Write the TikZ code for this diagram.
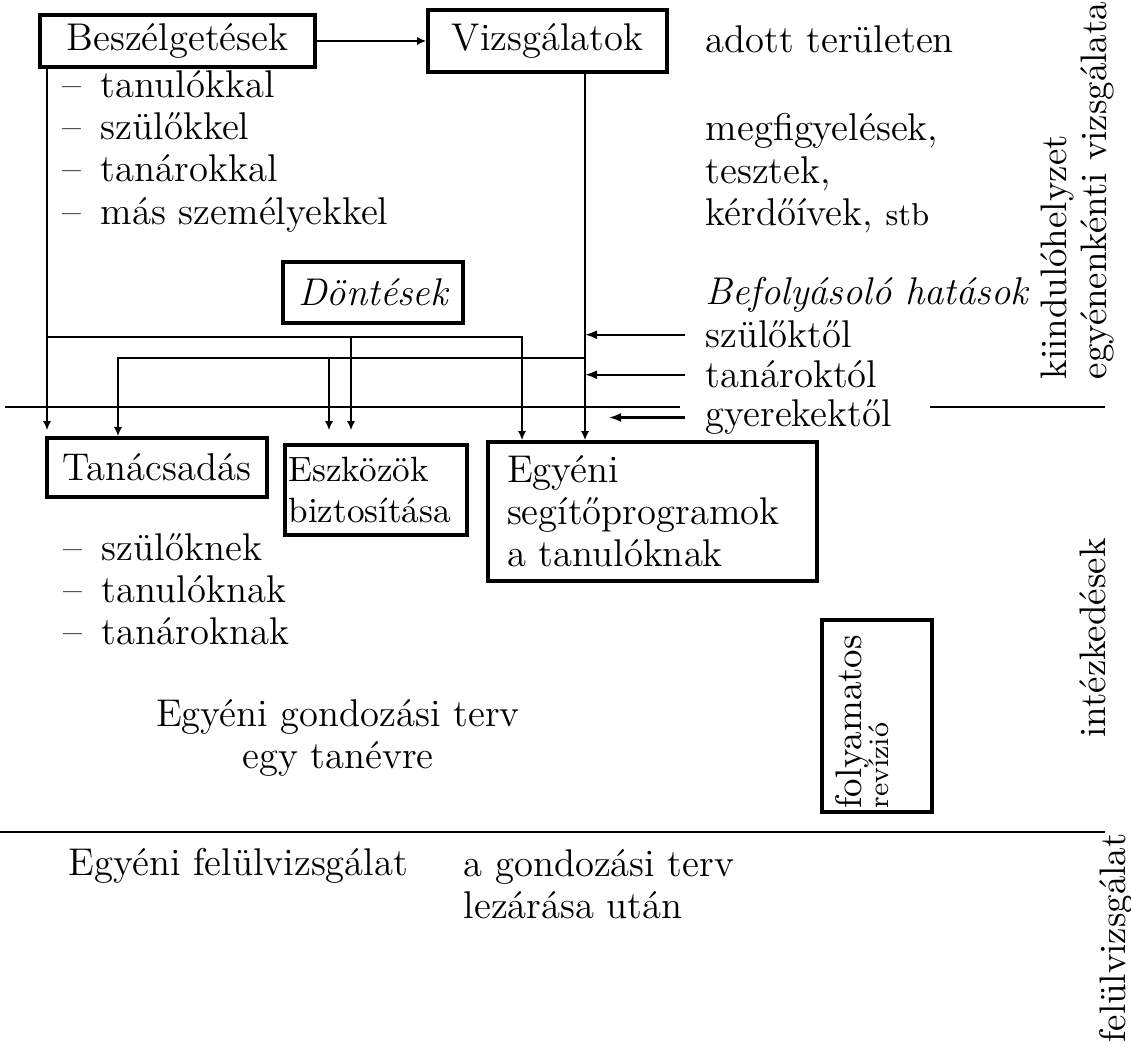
\documentclass[tikz,border=0pt]{standalone}
\usepackage{tikz}
\usetikzlibrary{calc, positioning, arrows.meta}
\newcommand{\dgfont}{\fontsize{11}{12}\selectfont}
\newcommand{\dgside}{\fontsize{10.5}{11.5}\selectfont}

\begin{document}
\begin{tikzpicture}[
  font=\dgfont,
  >={Latex[length=0.9mm,width=0.8mm]},
  box/.style={draw, line width=1pt, inner sep=2pt, align=center, font=\dgfont},
  lbl/.style={inner sep=0pt, align=left, font=\dgfont},
  flow/.style={->, line width=0.45pt},
  infl/.style={-{Latex[length=1.2mm,width=0.9mm]}, line width=0.6pt},
  sep/.style={line width=0.6pt},
  side/.style={rotate=90, inner sep=0pt, align=left, font=\dgside}
]
\useasboundingbox (0,0) rectangle (11.31,-10.49);

% upper band
\node[box, minimum width=2.75cm, minimum height=0.52cm] (besz) at (1.775,-0.41) {Beszélgetések};
\node[box, minimum width=2.39cm, minimum height=0.62cm] (vizsg) at (5.475,-0.41) {Vizsgálatok};
\node[lbl, anchor=base west] (adott) at (7.05,-0.53) {adott területen};
\node[lbl, anchor=north west] (kikkel) at (0.62,-0.70)
  {–\enspace tanulókkal\\–\enspace szülőkkel\\–\enspace tanárokkal\\–\enspace más személyekkel};
\node[lbl, anchor=north west] (modszer) at (7.05,-1.13)
  {megfigyelések,\\tesztek,\\kérdőívek, {\small stb}};

\node[box, font=\dgfont\itshape, minimum width=1.80cm, minimum height=0.61cm] (dont) at (3.73,-2.925) {Döntések};

\node[lbl, anchor=base west, font=\dgfont\itshape] (hatas) at (7.05,-3.05) {Befolyásoló hatások};
\node[lbl, anchor=base west] (szulok) at (7.05,-3.48) {szülőktől};
\node[lbl, anchor=base west] (tanarok) at (7.05,-3.88) {tanároktól};
\node[lbl, anchor=base west] (gyerekek) at (7.05,-4.27) {gyerekektől};

% measures
\node[box, minimum width=2.20cm, minimum height=0.59cm] (tanacs) at (1.57,-4.675) {Tanácsadás};
\node[box, align=left, text width=1.75cm, inner sep=1pt, minimum height=0.90cm,
      font=\fontsize{10}{11.4}\selectfont] (eszk) at (3.76,-4.90) {Eszközök\\biztosítása};
\node[box, align=left, text width=2.91cm, inner xsep=0.19cm, inner ysep=2pt,
      minimum height=1.39cm] (egyeni) at (6.525,-5.115) {Egyéni\\segítőprogramok\\a tanulóknak};
\node[lbl, anchor=north west] (kinek) at (0.63,-5.33)
  {–\enspace szülőknek\\–\enspace tanulóknak\\–\enspace tanároknak};
\node[lbl, align=center] (terv) at (3.38,-7.38) {Egyéni gondozási terv\\egy tanévre};
\node[box, rotate=90, align=left, text width=1.85cm, inner sep=1pt, minimum height=1.10cm,
      font=\dgside] (reviz) at (8.77,-7.16)
  {folyamatos\\[-4pt]{\fontsize{8}{9}\selectfont revízió}\rule[-3mm]{0pt}{0pt}};

% review
\node[lbl, anchor=base west] (felul) at (0.68,-8.76) {Egyéni felülvizsgálat};
\node[lbl, anchor=north west] (lezar) at (4.63,-8.49) {a gondozási terv\\lezárása után};

% side titles
\node[side, anchor=south west] (kiind) at (11.15,-3.80) {kiindulóhelyzet\\egyénenkénti vizsgálata};
\node[side] (intez) at (10.93,-6.38) {intézkedések};
\node[side] (felulv) at (11.16,-9.38) {felülvizsgálat};

% band separators
\draw[sep] (0.05,-4.07) -- (6.80,-4.07);
\draw[sep] (9.30,-4.07) -- (11.05,-4.07);
\draw[sep] (0,-8.32) -- (11.05,-8.32);

% connectors
\coordinate (bdown) at (0.47,-3.37);
\coordinate (vdown) at (5.85,-3.58);
\coordinate (adrop) at (5.22,-3.37);
\coordinate (tdrop) at (1.18,-3.58);
\coordinate (eA) at (3.51,-3.37);
\coordinate (eB) at (3.29,-3.58);

\draw[flow] (besz.east) -- (besz.east -| vizsg.west);
\draw[flow, shorten >=0.6mm] (besz.south -| bdown) -- (tanacs.north -| bdown);
\draw[flow] (vizsg.south -| vdown) -- (egyeni.north -| vdown);
\draw[flow] (bdown) -| (egyeni.north -| adrop);
\draw[flow, shorten >=1.3mm] (eA) -- (eszk.north -| eA);
\draw[flow] (vdown) -| (tanacs.north -| tdrop);
\draw[flow, shorten >=1.3mm] (eB) -- (eszk.north -| eB);

\draw[infl] ([xshift=-2mm]szulok.west) -- (szulok.west -| vdown);
\draw[infl] ([xshift=-2mm]tanarok.west) -- (tanarok.west -| vdown);
\draw[infl] ([xshift=-2mm]gyerekek.west) -- ([xshift=-9.6mm]gyerekek.west);
\end{tikzpicture}
\end{document}
